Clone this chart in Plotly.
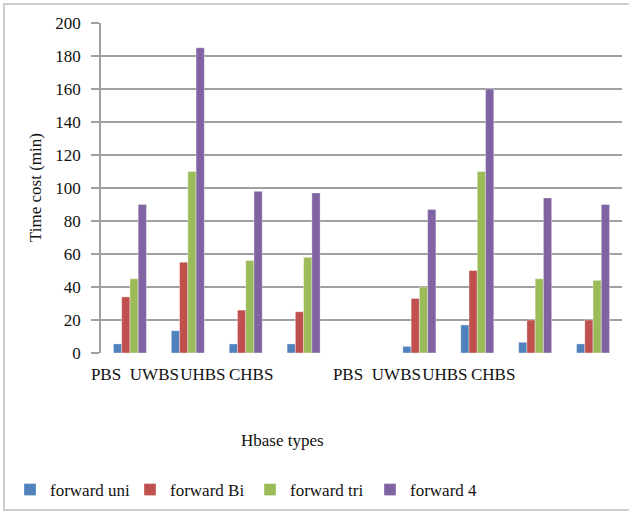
import plotly.graph_objects as go

# Hbase types, two runs separated by an empty slot
categories = ["PBS", "UWBS", "UHBS", "CHBS", "", "PBS", "UWBS", "UHBS", "CHBS"]
series_names = ["forward uni", "forward Bi", "forward tri", "forward 4"]
forward_uni = [5.5, 13.5, 5.5, 5.5, None, 4, 17, 6.5, 5.5]
forward_bi = [34, 55, 26, 25, None, 33, 50, 20, 20]
forward_tri = [45, 110, 56, 58, None, 40, 110, 45, 44]
forward_4 = [90, 185, 98, 97, None, 87, 160, 94, 90]
y_ticks = [0, 20, 40, 60, 80, 100, 120, 140, 160, 180, 200]

colors = ["#4F81BD", "#C0504D", "#9BBB59", "#8064A2"]
FONT = "Liberation Serif"
FS = 17
TXT = "#111"
W, H = 629, 513
ML, MR, MT, MB = 101, 7, 23, 160

positions = list(range(len(categories)))
label_pos = [p for p, c in zip(positions, categories) if c]
label_txt = [c for c in categories if c]

fig = go.Figure()
for name, vals, col in zip(series_names, [forward_uni, forward_bi, forward_tri, forward_4], colors):
    fig.add_trace(go.Bar(
        x=positions, y=vals, name=name,
        marker=dict(color=col, line=dict(color="rgba(255,255,255,0.6)", width=0.6)),
    ))

# invisible trace carrying the category label axis
fig.add_trace(go.Scatter(x=label_pos, y=[0] * len(label_pos), xaxis="x2",
                         mode="markers", marker=dict(opacity=0), showlegend=False,
                         hoverinfo="skip"))

plot_w = W - ML - MR
plot_h = H - MT - MB
label_step = 48.4
x2_lo = -5 / label_step
x2_hi = x2_lo + plot_w / label_step

fig.update_layout(
    width=W, height=H,
    margin=dict(l=ML, r=MR, t=MT, b=MB),
    paper_bgcolor="white", plot_bgcolor="white",
    barmode="group", bargap=0.43, bargroupgap=0,
    font=dict(family=FONT, size=FS, color=TXT),
    xaxis=dict(range=[-0.5, len(categories) - 0.5], showticklabels=False,
               showgrid=False, zeroline=False, showline=False, ticks=""),
    xaxis2=dict(overlaying="x", anchor="y", side="bottom",
                range=[x2_lo, x2_hi], tickvals=label_pos, ticktext=label_txt,
                tickangle=0, showgrid=False, zeroline=False, showline=False,
                ticks="", ticklabelstandoff=9,
                tickfont=dict(family=FONT, size=FS, color=TXT)),
    yaxis=dict(range=[0, 200], tickvals=y_ticks, showgrid=True,
               gridcolor="#a0a0a0", gridwidth=1.6, zeroline=False,
               showline=True, linecolor="#a0a0a0", linewidth=1.6,
               ticks="outside", ticklen=8, tickcolor="#a0a0a0", tickwidth=1.6,
               ticklabelstandoff=7,
               tickfont=dict(family=FONT, size=FS, color=TXT)),
    legend=dict(orientation="h", xref="container", yref="container",
                x=10 / W, y=1 - 490 / H, xanchor="left", yanchor="middle",
                font=dict(family=FONT, size=FS, color=TXT),
                entrywidth=75, entrywidthmode="pixels", itemwidth=30,
                traceorder="normal"),
    showlegend=True,
)

fig.add_annotation(text="Time cost (min)", xref="paper", yref="paper",
                   x=(35 - ML) / plot_w, y=0.5, textangle=-90,
                   xanchor="center", yanchor="middle", showarrow=False,
                   font=dict(family=FONT, size=FS, color=TXT))

fig.add_annotation(text="Hbase types", xref="paper", yref="paper",
                   x=(282 - ML) / plot_w, y=(H - MB - 440) / plot_h,
                   yanchor="middle", showarrow=False,
                   font=dict(family=FONT, size=FS, color=TXT))

# chart frame
fig.add_shape(type="rect", xref="paper", yref="paper",
              x0=(4 - ML) / plot_w, x1=(W + 2 - ML) / plot_w,
              y0=(H - MB - 510) / plot_h, y1=(H - MB - 4) / plot_h,
              line=dict(color="#bdbdbd", width=1.5), fillcolor="rgba(0,0,0,0)",
              layer="below")

fig.write_html("out.html")
